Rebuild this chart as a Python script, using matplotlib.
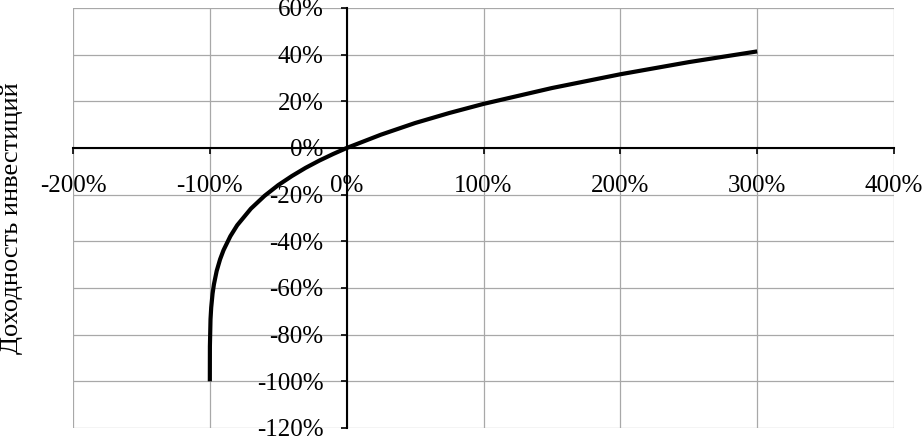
import matplotlib
matplotlib.use("Agg")
import matplotlib.pyplot as plt
from matplotlib.ticker import FuncFormatter

# Data (percent)
x_vals = [-100.0, -99.95, -99.5, -99.0, -98.0, -97.0, -95.0, -92.5, -90.0, -85.0,
          -80.0, -70.0, -60.0, -50.0, -40.0, -30.0, -20.0, -10.0, 0.0,
          25.0, 50.0, 75.0, 100.0, 150.0, 200.0, 250.0, 300.0]
y_vals = [-100.0, -85.0, -73.4, -68.4, -62.4, -58.4, -52.7, -47.7, -43.8, -37.8,
          -33.1, -26.0, -20.5, -15.9, -12.0, -8.5, -5.4, -2.6, 0.0,
          5.7, 10.7, 15.0, 18.9, 25.7, 31.6, 36.8, 41.4]

x_ticks = [-200, -100, 0, 100, 200, 300, 400]
y_ticks = [-120, -100, -80, -60, -40, -20, 0, 20, 40, 60]
y_label = "Доходность инвестиций"

plt.rcParams['font.family'] = ['Liberation Serif', 'DejaVu Serif']

W, H = 923, 437
fig = plt.figure(figsize=(W / 100, H / 100), dpi=100)
left, right, top, bottom = 73, 894, 8, 428
ax = fig.add_axes([left / W, 1 - bottom / H, (right - left) / W, (bottom - top) / H])

ax.plot(x_vals, y_vals, color='black', lw=3.0, solid_capstyle='butt', zorder=5)

ax.set_xlim(-200, 400)
ax.set_ylim(-120, 60)
ax.set_xticks(x_ticks)
ax.set_yticks(y_ticks)
fmt = FuncFormatter(lambda v, p: f"{v:.0f}%")
ax.xaxis.set_major_formatter(fmt)
ax.yaxis.set_major_formatter(fmt)

ax.grid(True, color='#a8a8a8', lw=0.9)
ax.set_axisbelow(True)
for gl in ax.get_xgridlines() + ax.get_ygridlines():
    gl.set_clip_on(False)

for s in ['top', 'right']:
    ax.spines[s].set_visible(False)
ax.spines['left'].set_position(('data', 0))
ax.spines['bottom'].set_position(('data', 0))
for s in ['left', 'bottom']:
    ax.spines[s].set_linewidth(1.5)
    ax.spines[s].set_color('black')
    ax.spines[s].set_zorder(4)

ax.tick_params(axis='both', direction='out', length=4.5, width=1.2, color='black',
               labelsize=18, labelcolor='black')
ax.tick_params(axis='x', pad=15)
ax.tick_params(axis='y', pad=12)

fig.text(12 / W, 1 - 218 / H, y_label, rotation=90, ha='center', va='center', fontsize=19)

fig.savefig("out.png", dpi=100, facecolor='white')
